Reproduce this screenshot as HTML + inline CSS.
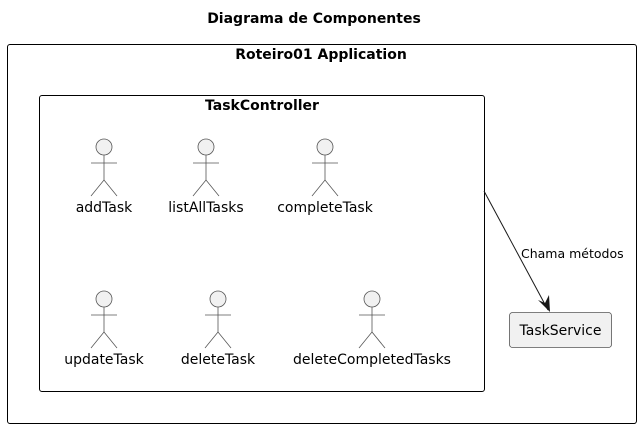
<!DOCTYPE html>
<html><head><meta charset="utf-8"><style>body{margin:0;background:#fff}svg{display:block}</style></head><body>
<svg width="641" height="428" xmlns="http://www.w3.org/2000/svg" font-family="DejaVu Sans, sans-serif">
<rect width="641" height="428" fill="#fff"/>
<text x="314" y="23" text-anchor="middle" font-size="14" font-weight="bold">Diagrama de Componentes</text>
<rect x="7.5" y="44.5" width="629" height="379" rx="2.5" fill="none" stroke="#000" stroke-width="1"/>
<text x="321" y="59" text-anchor="middle" font-size="14" font-weight="bold">Roteiro01 Application</text>
<rect x="39.5" y="95.5" width="445" height="296" rx="2.5" fill="none" stroke="#000" stroke-width="1"/>
<text x="262" y="110" text-anchor="middle" font-size="14" font-weight="bold">TaskController</text>
<defs>
<g id="act" stroke="#555" stroke-width="0.8" fill="#F1F1F1">
<circle cx="0" cy="0" r="8"/>
<line x1="0" y1="8" x2="0" y2="33"/>
<line x1="-13" y1="16" x2="13" y2="16"/>
<line x1="0" y1="33" x2="-13" y2="49"/>
<line x1="0" y1="33" x2="13" y2="49"/>
</g>
</defs>
<use href="#act" x="104" y="147"/>
<use href="#act" x="206" y="147"/>
<use href="#act" x="325" y="147"/>
<use href="#act" x="104" y="299"/>
<use href="#act" x="218" y="299"/>
<use href="#act" x="372" y="299"/>
<g font-size="14" text-anchor="middle" fill="#000">
<text x="104" y="212">addTask</text>
<text x="206" y="212">listAllTasks</text>
<text x="325" y="212">completeTask</text>
<text x="104" y="364">updateTask</text>
<text x="218" y="364">deleteTask</text>
<text x="372" y="364">deleteCompletedTasks</text>
</g>
<rect x="509.5" y="312.5" width="102" height="35" rx="3" fill="#F1F1F1" stroke="#555" stroke-width="0.8"/>
<text x="560.5" y="335" text-anchor="middle" font-size="14">TaskService</text>
<line x1="484" y1="191" x2="548" y2="310" stroke="#181818" stroke-width="1"/>
<polygon points="550,312 538,300 545,303 549,295" fill="#181818"/>
<text x="521" y="258" font-size="12.5">Chama métodos</text>
</svg>
</body></html>
